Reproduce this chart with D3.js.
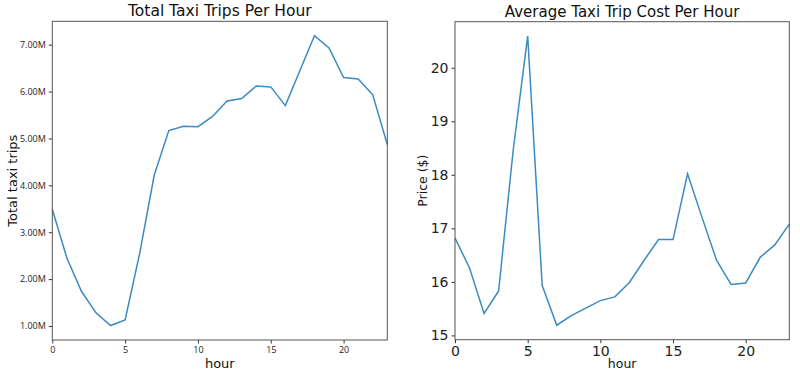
<!DOCTYPE html>
<html>
<head>
<meta charset="utf-8">
<script src="https://cdn.jsdelivr.net/npm/d3@7"></script>
<style>
  body { margin: 0; background: #fff; }
  svg { display: block; font-family: "DejaVu Sans", sans-serif; }
  .domain { stroke: none; }
  .tick line { stroke: #333; }
  .tick text { fill: #222; }
</style>
</head>
<body>
<svg width="800" height="378"></svg>
<script>
// hours 0..23
const hours = [0,1,2,3,4,5,6,7,8,9,10,11,12,13,14,15,16,17,18,19,20,21,22,23];

// total trips per hour, in millions
const tripsM = [3.49,2.45,1.74,1.28,1.01,1.13,2.55,4.22,5.17,5.26,5.25,5.47,5.80,5.85,6.12,6.10,5.70,6.45,7.19,6.93,6.30,6.27,5.93,4.87];

// average cost per hour, dollars
const cost = [16.82,16.26,15.41,15.83,18.45,20.59,15.93,15.19,15.37,15.51,15.65,15.72,15.99,16.40,16.79,16.79,18.02,17.20,16.40,15.95,15.98,16.46,16.69,17.08];

const xTicks = [0,5,10,15,20];
const tripTicks = [1,2,3,4,5,6,7];
const costTicks = [15,16,17,18,19,20];

const svg = d3.select('svg');
const lineColor = '#3b8bc2';

// matplotlib style 5% padding
function padded(vals) {
    const lo = d3.min(vals), hi = d3.max(vals);
    const p = (hi - lo) * 0.05;
    return [lo - p, hi + p];
}

function drawPanel(opts) {
    const { left, right, top, bottom, values, yTicks, yFmt, tickFont, tickSize, title, titleSize, ylabel, ylabelX, labelSize } = opts;

    const x = d3.scaleLinear().domain([0, 23]).range([left, right]);
    const y = d3.scaleLinear().domain(padded(values)).range([bottom, top]);

    const g = svg.append('g');

    // ======================= AXES ===============================
    const xAxis = g.append('g')
        .attr('transform', `translate(0, ${bottom})`)
        .call(d3.axisBottom(x).tickValues(xTicks).tickSize(3.5).tickPadding(3).tickSizeOuter(0));
    xAxis.selectAll('text').style('font-family', tickFont).style('font-size', tickSize + 'px');

    const yAxis = g.append('g')
        .attr('transform', `translate(${left}, 0)`)
        .call(d3.axisLeft(y).tickValues(yTicks).tickFormat(yFmt).tickSize(3.5).tickPadding(3).tickSizeOuter(0));
    yAxis.selectAll('text').style('font-family', tickFont).style('font-size', tickSize + 'px');

    // ======================= LINE ===============================
    g.append('path')
        .datum(values)
        .attr('fill', 'none')
        .attr('stroke', lineColor)
        .attr('stroke-width', 1.5)
        .attr('d', d3.line().x((d, i) => x(hours[i])).y(d => y(d)));

    // frame
    g.append('rect')
        .attr('x', left).attr('y', top)
        .attr('width', right - left).attr('height', bottom - top)
        .attr('fill', 'none').attr('stroke', '#555').attr('stroke-width', 1);

    // ======================= TITLES ===============================
    g.append('text')
        .text(title)
        .attr('x', (left + right) / 2)
        .attr('y', top - 5)
        .attr('text-anchor', 'middle')
        .style('font-size', titleSize + 'px')
        .attr('fill', '#111');

    g.append('text')
        .text('hour')
        .attr('x', (left + right) / 2)
        .attr('y', 368)
        .attr('text-anchor', 'middle')
        .style('font-size', labelSize + 'px')
        .attr('fill', '#111');

    g.append('text')
        .text(ylabel)
        .attr('text-anchor', 'middle')
        .attr('transform', `translate(${ylabelX}, ${(top + bottom) / 2}) rotate(-90)`)
        .style('font-size', labelSize + 'px')
        .attr('fill', '#111');
}

drawPanel({
    left: 52.3, right: 387.3, top: 21.3, bottom: 340,
    values: tripsM,
    yTicks: tripTicks,
    yFmt: d => d.toFixed(2) + 'M',
    tickFont: '"Open Sans", sans-serif', tickSize: 9,
    title: 'Total Taxi Trips Per Hour', titleSize: 15.5,
    ylabel: 'Total taxi trips', ylabelX: 16.5, labelSize: 13
});

drawPanel({
    left: 455, right: 789.3, top: 21.7, bottom: 339.7,
    values: cost,
    yTicks: costTicks,
    yFmt: d => d,
    tickFont: '"DejaVu Sans", sans-serif', tickSize: 14,
    title: 'Average Taxi Trip Cost Per Hour', titleSize: 15,
    ylabel: 'Price ($)', ylabelX: 427, labelSize: 12.5
});
</script>
</body>
</html>
